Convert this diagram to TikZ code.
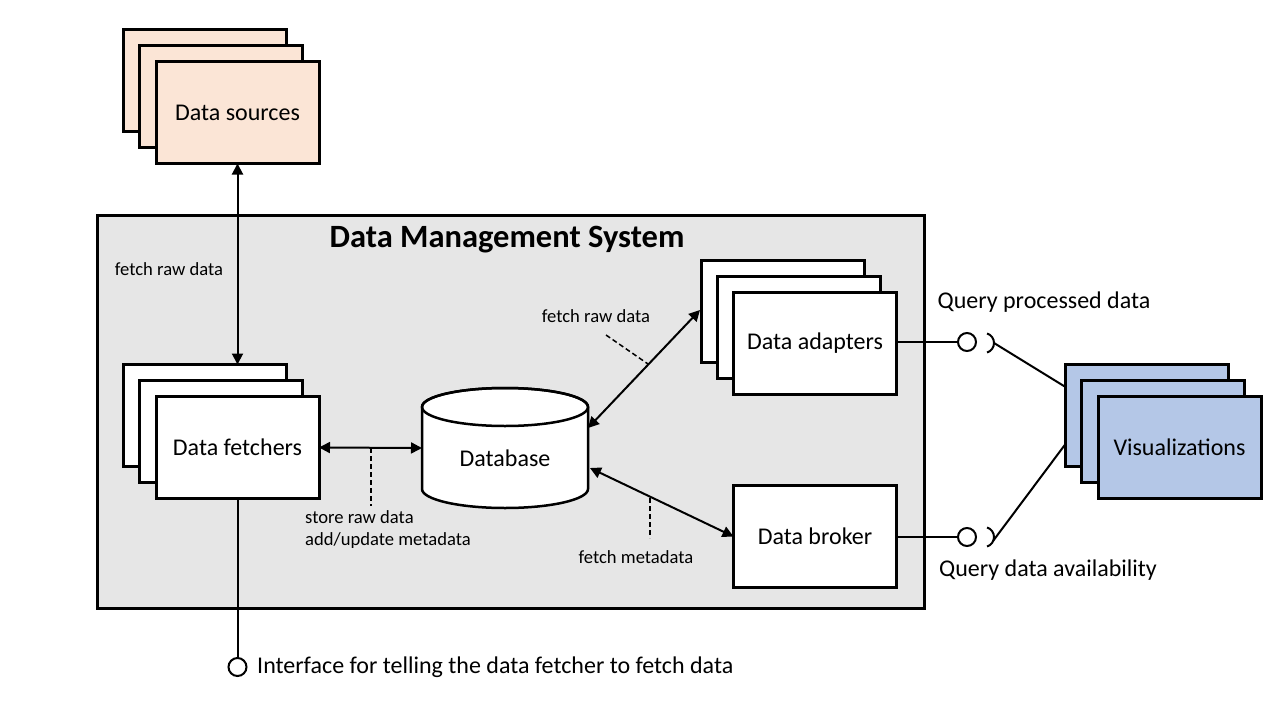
\documentclass[tikz,border=0pt]{standalone}
\usepackage{fontspec}
\setmainfont{Carlito}
\usetikzlibrary{arrows.meta}
\definecolor{srcfill}{HTML}{FBE5D6}
\definecolor{visfill}{HTML}{B4C7E7}
\definecolor{dmsfill}{HTML}{E6E6E6}
\begin{document}
\begin{tikzpicture}[x=1pt,y=-1pt,
  box/.style={draw, line width=3pt, inner sep=0pt, outer sep=0pt, minimum width=163pt, minimum height=102pt, fill=white, font=\fontsize{24}{28}\selectfont},
  small/.style={font=\fontsize{18.6}{22}\selectfont, inner sep=0pt},
  medium/.style={font=\fontsize{24}{28}\selectfont, inner sep=0pt},
  arr/.style={line width=2pt, {Triangle[length=11pt,width=11pt]}-{Triangle[length=11pt,width=11pt]}},
  conn/.style={line width=2pt},
  tick/.style={line width=1.5pt, dash pattern=on 5pt off 3pt},
  lolli/.style={draw, circle, line width=2pt, fill=white, minimum size=18pt, inner sep=0pt, outer sep=0pt}
]
\useasboundingbox (0,0) rectangle (1280,720);

% Data management system
\node[draw, line width=3pt, fill=dmsfill, minimum width=827pt, minimum height=393pt, inner sep=0pt, outer sep=0pt] (dms) at (511,412) {};
\node[font=\bfseries\fontsize{32.5}{38}\selectfont, inner sep=0pt] (title) at (507,240) {Data Management System};

% Data sources
\node[box, fill=srcfill] (srcA) at (205,80.5) {};
\node[box, fill=srcfill] (srcB) at (221,96.5) {};
\node[box, fill=srcfill] (src) at (237.5,112.5) {Data sources};

% Data fetchers
\node[box] (fetchA) at (205,415.5) {};
\node[box] (fetchB) at (221,431.5) {};
\node[box] (fetch) at (237.5,447.5) {Data fetchers};

% Data adapters
\node[box] (adaptA) at (783,311) {};
\node[box] (adaptB) at (799,327) {};
\node[box] (adapt) at (815,343) {Data adapters};

% Data broker
\node[box] (broker) at (815,536.5) {Data broker};

% Visualizations
\node[box, fill=visfill] (visA) at (1147,415.5) {};
\node[box, fill=visfill] (visB) at (1163,431.5) {};
\node[box, fill=visfill] (vis) at (1179.5,447.5) {Visualizations};

% Database cylinder
\node[minimum width=166pt, minimum height=120pt, inner sep=0pt, outer sep=0pt] (db) at (505,448) {};
\draw[line width=2.5pt, fill=white] ([yshift=-19pt]db.north west) -- ([yshift=19pt]db.south west)
  arc[start angle=180, end angle=360, x radius=83pt, y radius=19pt]
  -- ([yshift=-19pt]db.north east)
  arc[start angle=0, end angle=180, x radius=83pt, y radius=19pt] -- cycle;
\draw[line width=2.5pt] ([yshift=-19pt]db.north) ellipse[x radius=83pt, y radius=19pt];
\node[medium] (dblabel) at (505,458) {Database};

% Connectors
\draw[arr] (src.south) -- (src.south |- fetchA.north);
\node[small] (lblfetch) at (169,269) {fetch raw data};

\draw[arr] (fetch.east) -- (db.west);
\coordinate (t1a) at (371,448);
\coordinate (t1b) at (371,506);
\draw[tick] (t1a) -- (t1b);
\node[small, anchor=north west, align=left] (lblstore) at (305,510) {store raw data\\add/update metadata};

\coordinate (dbA) at (588,428);
\coordinate (adA) at (700,310);
\draw[arr] (dbA) -- (adA);
\coordinate (t2a) at (606,335);
\coordinate (t2b) at (648,364);
\draw[tick] (t2a) -- (t2b);
\node[small] (lblraw2) at (596,316) {fetch raw data};

\coordinate (dbB) at (590,468);
\draw[arr] (dbB) -- (broker.west);
\coordinate (t3a) at (650,498);
\coordinate (t3b) at (650,538);
\draw[tick] (t3a) -- (t3b);
\node[small] (lblmeta) at (636,557) {fetch metadata};

% Lollipops and sockets
\node[lolli] (c1) at (967,342) {};
\node[lolli] (c2) at (967,537) {};
\draw[conn] (adapt.east |- c1) -- (c1.west);
\draw[conn] (broker.east |- c2) -- (c2.west);
\coordinate (s1) at (984,343);
\coordinate (s2) at (984,537);
\draw[conn] ([xshift=10pt]s1) arc[start angle=0, end angle=72, radius=10pt]
            ([xshift=10pt]s1) arc[start angle=0, end angle=-72, radius=10pt];
\draw[conn] ([xshift=10pt]s2) arc[start angle=0, end angle=72, radius=10pt]
            ([xshift=10pt]s2) arc[start angle=0, end angle=-72, radius=10pt];
\draw[conn] ([xshift=10pt]s1) -- ([yshift=28.5pt]visA.west);
\draw[conn] ([xshift=9pt,yshift=-4pt]s2) -- ([yshift=-28.5pt]visA.west);
\node[medium] (lblq1) at (1044,302) {Query processed data};
\node[medium] (lblq2) at (1048,570) {Query data availability};

% Interface at bottom
\node[lolli] (c3) at (237.5,667) {};
\draw[conn] (fetch.south) -- (c3.north);
\node[medium, anchor=west] (lblif) at (257,667) {Interface for telling the data fetcher to fetch data};
\end{tikzpicture}
\end{document}
